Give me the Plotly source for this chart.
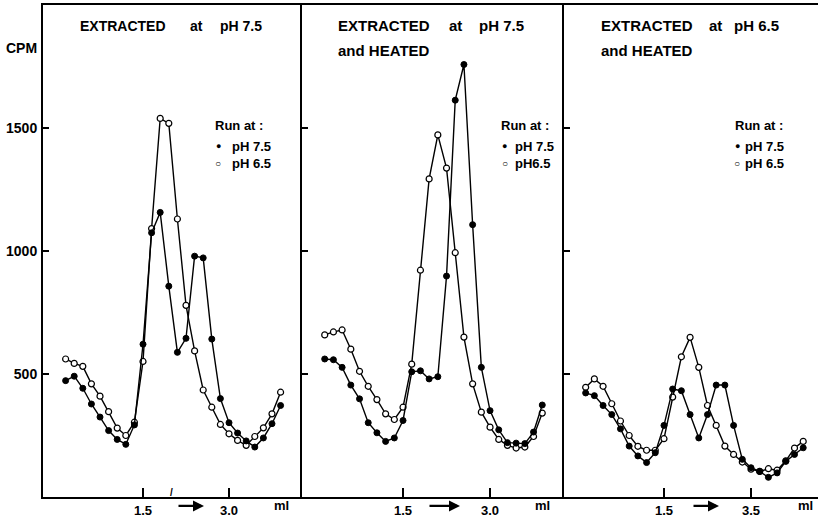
import plotly.graph_objects as go

# ---------------- data ----------------
fractions = [1, 2, 3, 4, 5, 6, 7, 8, 9, 10, 11, 12, 13, 14, 15, 16, 17, 18, 19, 20,
             21, 22, 23, 24, 25, 26]

# Panel A: extracted at pH 7.5
a_run75 = [473, 491, 442, 378, 325, 270, 234, 214, 293, 621, 1074, 1157, 857, 588,
           645, 979, 972, 642, 400, 302, 260, 228, 203, 240, 298, 372]
a_run65 = [561, 543, 531, 460, 410, 347, 280, 250, 304, 551, 1091, 1539, 1519, 1130,
           779, 594, 435, 365, 295, 257, 230, 210, 246, 281, 338, 426]

# Panel B: extracted at pH 7.5 and heated
b_run75 = [561, 558, 527, 455, 399, 302, 261, 226, 240, 311, 509, 513, 480, 489,
           898, 1613, 1758, 1107, 527, 351, 273, 221, 219, 217, 264, 374]
b_run65 = [659, 671, 679, 601, 511, 450, 396, 338, 315, 365, 540, 922, 1293, 1472,
           1337, 993, 650, 460, 345, 284, 234, 210, 199, 203, 246, 341]

# Panel C: extracted at pH 6.5 and heated
c_run75 = [423, 412, 372, 335, 277, 207, 167, 140, 180, 291, 439, 432, 335, 240,
           335, 455, 455, 291, 153, 119, 104, 80, 98, 145, 173, 200]
c_run65 = [446, 480, 450, 379, 309, 250, 206, 190, 190, 237, 406, 570, 649, 527,
           372, 291, 207, 173, 142, 113, 104, 115, 109, 147, 199, 226]

panel_titles = [["EXTRACTED", "at", "pH 7.5"],
                ["EXTRACTED", "at", "pH 7.5"],
                ["EXTRACTED", "at", "pH 6.5"]]
panel_sub = ["", "and HEATED", "and HEATED"]
x_tick_pos = [10, 20]
x_tick_labels = [["1.5", "3.0"], ["1.5", "3.0"], ["1.5", "3.5"]]
y_tick_vals = [500, 1000, 1500]
y_tick_labels = ["500", "1000", "1500"]
legend_title = "Run at :"
legend_labels = [["pH 7.5", "pH 6.5"], ["pH 7.5", "pH6.5"], ["pH 7.5", "pH 6.5"]]

series = [(a_run75, a_run65), (b_run75, b_run65), (c_run75, c_run65)]

# ---------------- layout geometry ----------------
W, H = 818, 518
L, R, T, B = 43, 0, 5, 19
PW, PH = W - L - R, H - T - B

def px(x):
    return (x - L) / PW

def py(y):
    return (H - B - y) / PH

domains = [[0, px(302)], [px(302), px(564)], [px(564), 1.0]]
xranges = [[-1.63, 28.49], [-1.61, 28.5], [-1.49, 27.7]]

FONT = "Liberation Sans, Arial, Helvetica, sans-serif"

fig = go.Figure()
for i, (s75, s65) in enumerate(series):
    xa = "x" if i == 0 else f"x{i+1}"
    ya = "y" if i == 0 else f"y{i+1}"
    fig.add_trace(go.Scatter(
        x=fractions, y=s65, mode="lines+markers", xaxis=xa, yaxis=ya,
        line=dict(color="black", width=1.4),
        marker=dict(symbol="circle", size=6, color="white",
                    line=dict(color="black", width=1.2)),
        showlegend=False, cliponaxis=False, hoverinfo="skip"))
    fig.add_trace(go.Scatter(
        x=fractions, y=s75, mode="lines+markers", xaxis=xa, yaxis=ya,
        line=dict(color="black", width=1.4),
        marker=dict(symbol="circle", size=6, color="black",
                    line=dict(color="black", width=1)),
        showlegend=False, cliponaxis=False, hoverinfo="skip"))

layout = dict(
    width=W, height=H, margin=dict(l=L, r=R, t=T, b=B, pad=0),
    paper_bgcolor="white", plot_bgcolor="white",
    font=dict(family=FONT, color="black", size=12),
)
for i in range(3):
    xk = "xaxis" if i == 0 else f"xaxis{i+1}"
    yk = "yaxis" if i == 0 else f"yaxis{i+1}"
    layout[xk] = dict(
        domain=domains[i], range=xranges[i], anchor="y" if i == 0 else f"y{i+1}",
        tickvals=x_tick_pos, ticktext=[f"<b>{t}</b>" for t in x_tick_labels[i]],
        ticks="inside", ticklen=9, tickwidth=1.6, tickcolor="black",
        showline=True, linewidth=2, linecolor="black", mirror=True,
        showgrid=False, zeroline=False, tickfont=dict(size=13, family=FONT),
        ticklabelstandoff=0, fixedrange=True)
    layout[yk] = dict(
        domain=[0, 1], range=[0, 2000], anchor="x" if i == 0 else f"x{i+1}",
        tickvals=y_tick_vals,
        ticktext=[f"<b>{t}</b>" for t in y_tick_labels] if i == 0 else ["", "", ""],
        ticks="inside", ticklen=6, tickwidth=1.6, tickcolor="black",
        showline=True, linewidth=2, linecolor="black", mirror=False,
        showgrid=False, zeroline=False, tickfont=dict(size=14, family=FONT),
        ticklabelstandoff=1, fixedrange=True)
fig.update_layout(**layout)

ann = []
def text(x, y, s, size=13, anchor="left"):
    ann.append(dict(xref="paper", yref="paper", x=px(x), y=py(y), text=f"<b>{s}</b>",
                    showarrow=False, xanchor=anchor, yanchor="middle",
                    font=dict(size=size, family=FONT, color="black")))

# titles
title_pos = [[78, 188, 218], [336, 447, 477], [599, 707, 732]]
title_size = [14, 15, 15]
for i in range(3):
    for word, xx in zip(panel_titles[i], title_pos[i]):
        text(xx, 26, word, size=title_size[i])
    if panel_sub[i]:
        text(title_pos[i][0], 51, panel_sub[i], size=title_size[i])

# legends
leg_title_x = [213, 499, 733]
leg_dot_x = [218, 505, 737]
leg_lab_x = [230, 513, 743]
for i in range(3):
    text(leg_title_x[i], 126, legend_title, size=13)
    text(leg_dot_x[i], 147, "●", size=9, anchor="center")
    text(leg_dot_x[i], 164, "○", size=10, anchor="center")
    text(leg_lab_x[i], 147, legend_labels[i][0], size=13)
    text(leg_lab_x[i], 164, legend_labels[i][1], size=13)

# CPM label
text(4, 48, "CPM", size=14)

# x-axis extras: arrow and "ml"
arrows = [(177, 204), (428, 460), (692, 719)]
ml_pos = [281, 542, 805]
for i in range(3):
    a0, a1 = arrows[i]
    ann.append(dict(xref="paper", yref="paper", x=px(a1), y=py(508),
                    ax=-(a1 - a0), ay=0, axref="pixel", ayref="pixel",
                    text="", showarrow=True, arrowhead=2, arrowsize=1.0,
                    arrowwidth=2.2, arrowcolor="black"))
    text(ml_pos[i], 508, "ml", size=13, anchor="center")

# small break mark on first axis
text(171, 494, "/", size=10, anchor="center")

fig.update_layout(annotations=ann, hovermode=False)
fig.write_html("out.html", config={"displayModeBar": False, "staticPlot": True},
               post_script="document.body.style.margin='0px';document.body.style.padding='0px';")
